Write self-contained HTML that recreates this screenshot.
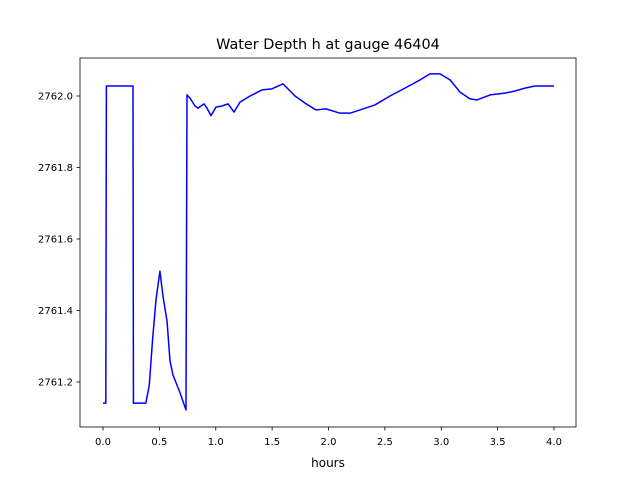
<!DOCTYPE html>
<html><head><meta charset="utf-8"><style>
body{margin:0;background:#fff;}
svg text{font-family:"DejaVu Sans","Liberation Sans",sans-serif;fill:#000;}
</style></head><body>
<svg width="640" height="480" id="c">
<rect width="640" height="480" fill="#fff"/>
<text x="328" y="49" font-size="14.4" text-anchor="middle">Water Depth h at gauge 46404</text>
<text x="328" y="467" font-size="12" text-anchor="middle">hours</text>
<g id="ticks"></g>
<path id="line" fill="none" stroke="#0000ff" stroke-width="1.5" stroke-linejoin="round"/>
<rect x="80" y="58" width="496" height="369" fill="none" stroke="#000" stroke-width="0.8"/>
</svg>
<script>
const hours=[0,0.025,0.03,0.266,0.27,0.38,0.41,0.44,0.47,0.505,0.532,0.568,0.594,0.62,0.683,0.736,0.745,0.772,0.816,0.843,0.896,0.922,0.958,1.002,1.055,1.109,1.162,1.215,1.304,1.410,1.499,1.597,1.703,1.792,1.889,1.978,2.102,2.191,2.279,2.412,2.545,2.678,2.812,2.900,2.989,3.078,3.166,3.255,3.317,3.433,3.565,3.654,3.743,3.831,4.0];
const depth=[2761.141,2761.141,2762.028,2762.028,2761.141,2761.141,2761.19,2761.32,2761.43,2761.51,2761.44,2761.37,2761.26,2761.22,2761.17,2761.122,2762.003,2761.994,2761.972,2761.966,2761.978,2761.966,2761.945,2761.969,2761.972,2761.978,2761.955,2761.983,2762.0,2762.017,2762.020,2762.034,2762.0,2761.980,2761.961,2761.964,2761.952,2761.952,2761.961,2761.975,2762.0,2762.022,2762.045,2762.062,2762.062,2762.045,2762.011,2761.992,2761.989,2762.003,2762.008,2762.014,2762.022,2762.028,2762.028];
const xTicks=[0,0.5,1,1.5,2,2.5,3,3.5,4];
const yTicks=[2761.2,2761.4,2761.6,2761.8,2762.0];
const X=v=>103+(v)*112.75;
const Y=v=>96-(v-2762)*357.5;
const ns="http://www.w3.org/2000/svg";
const g=document.getElementById('ticks');
function mk(t,a){const e=document.createElementNS(ns,t);for(const k in a)e.setAttribute(k,a[k]);g.appendChild(e);return e;}
xTicks.forEach(v=>{
 const l=mk('line',{x1:X(v),x2:X(v),y1:427,y2:430.5,stroke:'#000','stroke-width':0.8});
 
 
 const t=mk('text',{x:X(v),y:445,'font-size':10,'text-anchor':'middle'});t.textContent=v.toFixed(1);
 
 
});
yTicks.forEach(v=>{
 const l=mk('line',{x1:76.5,x2:80,y1:Y(v),y2:Y(v),stroke:'#000','stroke-width':0.8});
 
 
 const t=mk('text',{x:73,y:Y(v)+3.5,'font-size':10,'text-anchor':'end'});t.textContent=v.toFixed(1);
 
 
});
document.getElementById('line').setAttribute('d',hours.map((h,i)=>(i?'L':'M')+X(h).toFixed(2)+','+Y(depth[i]).toFixed(2)).join(''));
</script>
</body></html>
